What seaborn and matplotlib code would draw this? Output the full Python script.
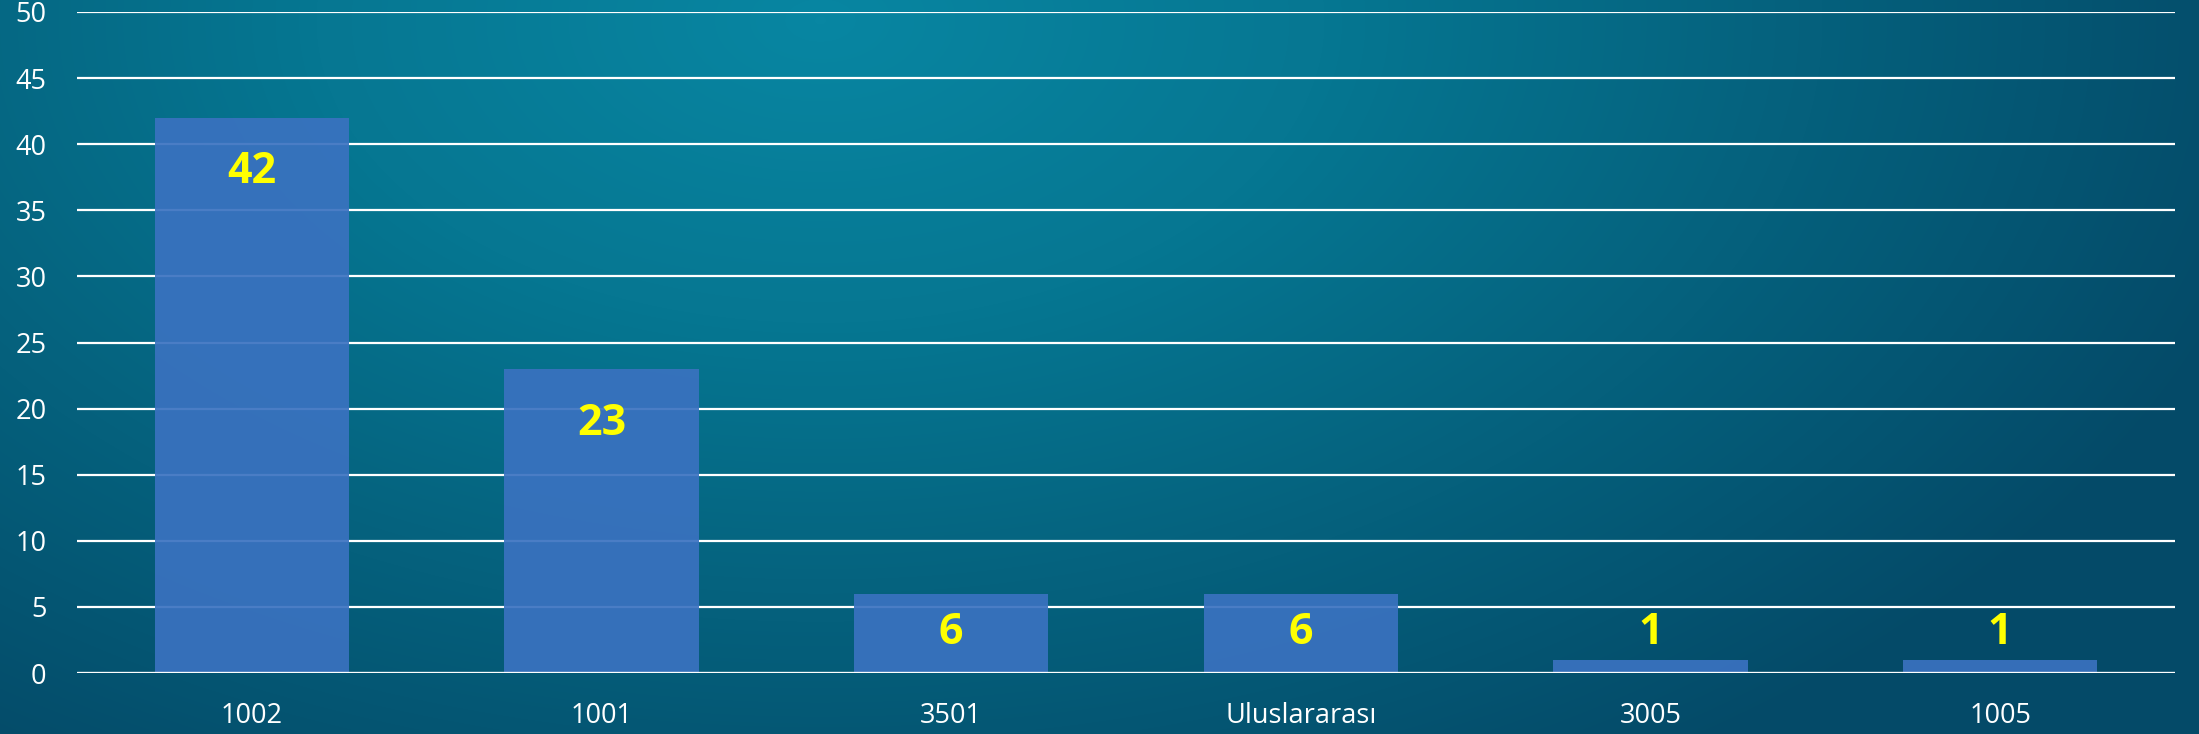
import numpy as np
import matplotlib
matplotlib.use("Agg")
import matplotlib.pyplot as plt
import seaborn as sns
import pandas as pd
from matplotlib.colors import LinearSegmentedColormap

categories = ["1002", "1001", "3501", "Uluslararası", "3005", "1005"]
values = [42, 23, 6, 6, 1, 1]
yticks = [0, 5, 10, 15, 20, 25, 30, 35, 40, 45, 50]

sns.set_theme(style="white")
plt.rcParams['font.family'] = ['Open Sans', 'DejaVu Sans']

W, H = 2199, 734
fig = plt.figure(figsize=(W / 100, H / 100), dpi=100)

# background radial gradient
bg = fig.add_axes([0, 0, 1, 1], zorder=-10)
yy, xx = np.mgrid[0:H, 0:W]
cx, cy = 820, 20
d = np.sqrt(((xx - cx) / 1500.0) ** 2 + ((yy - cy) / 900.0) ** 2)
d = np.clip(d, 0, 1)
cmap = LinearSegmentedColormap.from_list("bg", ["#0886a2", "#067792", "#05607c", "#044a68"])
bg.imshow(d, cmap=cmap, aspect="auto", extent=[0, W, H, 0], vmin=0, vmax=1)
bg.axis("off")

left, right = 77 / W, 2175 / W
bottom = 1 - 673 / H
top = 1 - 12 / H
ax = fig.add_axes([left, bottom, right - left, top - bottom])
ax.patch.set_alpha(0)

df = pd.DataFrame({"cat": categories, "val": values})
sns.barplot(data=df, x="cat", y="val", color="#3a72c0", saturation=1, width=0.555,
            alpha=0.92, linewidth=0, edgecolor="none", ax=ax, zorder=3)

ax.set_ylim(0, 50)
ax.set_xlim(-0.5, 5.5)
ax.set_yticks(yticks)
for t in yticks:
    ax.axhline(t, color="white", lw=2.4 if t == 0 else 1.6, zorder=2 if t else 4)

for s in ax.spines.values():
    s.set_visible(False)
ax.tick_params(axis="both", length=0, colors="white", labelsize=19.5)
ax.tick_params(axis="y", pad=22)
ax.tick_params(axis="x", pad=21)
ax.set_xlabel("")
ax.set_ylabel("")
for lab in ax.get_yticklabels() + ax.get_xticklabels():
    lab.set_color("white")

for i, v in enumerate(values):
    ypos = max(v - 4.1, 3.1)
    ax.text(i, ypos, str(v), ha="center", va="center", color="#ffff00",
            fontsize=31, fontweight="bold", zorder=5)

fig.savefig("out.png", dpi=100)
